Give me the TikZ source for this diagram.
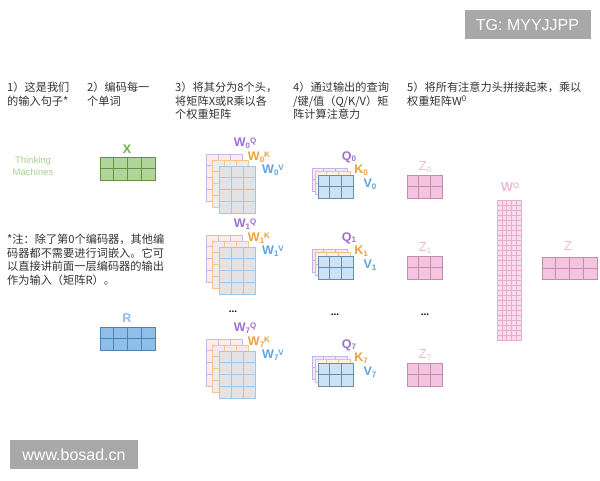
\documentclass[tikz,border=0pt]{standalone}
\usepackage{fontspec}
\setmainfont{Noto Sans CJK SC}
\newfontfamily\labfont{Liberation Sans}
\usepackage{xcolor}
\definecolor{qpurple}{HTML}{9D6FCF}
\definecolor{korange}{HTML}{EBA03C}
\definecolor{vblue}{HTML}{5FA3E0}
\definecolor{xgreen}{HTML}{6FB04A}
\definecolor{rblue}{HTML}{8FBDE8}
\definecolor{zpinklab}{HTML}{EDBCD5}
\definecolor{zfill}{HTML}{F4C3DF}
\definecolor{zline}{HTML}{C48BAB}
\definecolor{wofill}{HTML}{FADDEC}
\definecolor{woline}{HTML}{E6AECB}
\definecolor{markgray}{HTML}{A8A8A8}

\newcommand{\lsub}[1]{\raisebox{-1.5pt}{\fontsize{8}{8}\selectfont #1}}
\newcommand{\lsup}[1]{\raisebox{3.5pt}{\fontsize{8}{8}\selectfont #1}}

\tikzset{
  caption/.style={anchor=north west, align=left, inner sep=0pt,
    font=\fontsize{11.2}{13.5}\selectfont, text=black!80},
  matlab/.style={inner sep=0pt, font=\labfont\bfseries\fontsize{12.5}{12.5}\selectfont},
  qlab/.style={matlab, text=qpurple},
  klab/.style={matlab, text=korange},
  vlab/.style={matlab, text=vblue},
  zlab/.style={inner sep=0pt, text=zpinklab, font=\labfont\fontsize{13}{13}\selectfont},
  wback/.style={fill=black!5!purple!8, draw=qpurple!50, line width=0.7pt},
  wmid/.style={fill=orange!10!black!8, draw=korange!60, line width=0.7pt},
  wfront/.style={fill=black!11, draw=vblue!60, line width=0.7pt},
  qback/.style={fill=qpurple!15, draw=qpurple!55, line width=0.7pt},
  qmid/.style={fill=korange!15, draw=korange!65, line width=0.7pt},
  qfront/.style={fill=vblue!32, draw=vblue!70!black!80, line width=0.7pt},
  xmat/.style={fill=xgreen!55, draw=xgreen!85!black, line width=0.7pt},
  rmat/.style={fill=vblue!70, draw=vblue!80!black, line width=0.7pt},
  zmat/.style={fill=zfill, draw=zline, line width=0.7pt},
  womat/.style={fill=wofill, draw=woline, line width=0.4pt},
  wmark/.style={fill=markgray, text=white, inner sep=0pt,
    minimum width=126pt, minimum height=29pt,
    font=\labfont\fontsize{16}{16}\selectfont},
  dots/.style={inner sep=0pt, font=\labfont\bfseries\fontsize{10}{10}\selectfont}
}

\begin{document}
\begin{tikzpicture}[x=1pt, y=-1pt]
    \path [use as bounding box] (0,0) rectangle (600,480);

    \newcommand{\gridmat}[7]{
      \path[#7] (#1,#2) rectangle ++(#3*#5, #4*#6);
      \foreach \c in {1,...,#3}
        \draw[#7] (#1+\c*#5-#5, #2) -- ++(0, #4*#6);
      \foreach \r in {1,...,#4}
        \draw[#7] (#1, #2+\r*#6-#6) -- ++(#3*#5, 0);
    }

    \newcommand{\wstack}[2]{
      \gridmat{206}{#1}{3}{4}{12}{11.75}{wback}
      \gridmat{212.5}{#1+6}{3}{4}{12}{11.75}{wmid}
      \gridmat{219}{#1+12}{3}{4}{12}{11.75}{wfront}
      \node[qlab] (wq#2) at (245, #1-11) {W\lsub{#2}\lsup{Q}};
      \node[klab] (wk#2) at (259, #1+3) {W\lsub{#2}\lsup{K}};
      \node[vlab] (wv#2) at (273, #1+16) {W\lsub{#2}\lsup{V}};
    }

    \newcommand{\qkvstack}[2]{
      \gridmat{312}{#1}{3}{2}{11.67}{11.5}{qback}
      \gridmat{315}{#1+3.5}{3}{2}{11.67}{11.5}{qmid}
      \gridmat{318}{#1+7}{3}{2}{11.67}{11.5}{qfront}
      \node[qlab] (q#2) at (349, #1-11) {Q\lsub{#2}};
      \node[klab] (k#2) at (361, #1+2) {K\lsub{#2}};
      \node[vlab] (v#2) at (370, #1+16) {V\lsub{#2}};
    }

    \newcommand{\zhead}[2]{
      \gridmat{407}{#1}{3}{2}{11.67}{11.5}{zmat}
      \node[zlab] (z#2) at (425, #1-8) {Z\lsub{#2}};
    }

    \node[caption] (step1) at (7, 82) {1）这是我们\\的输入句子*};
    \node[caption] (step2) at (87, 82) {2）编码每一\\个单词};
    \node[caption] (step3) at (175, 82) {3）将其分为8个头，\\将矩阵X或R乘以各\\个权重矩阵};
    \node[caption] (step4) at (293, 82) {4）通过输出的查询\\/键/值（Q/K/V）矩\\阵计算注意力};
    \node[caption] (step5) at (407, 82) {5）将所有注意力头拼接起来，乘以\\权重矩阵W\textsuperscript{0}};
    \node[caption] (note) at (7, 234)
      {*注：除了第0个编码器，其他编\\码器都不需要进行词嵌入。它可\\以直接讲前面一层编码器的输出\\作为输入（矩阵R）。};

    \node[align=center, inner sep=0pt, text=xgreen!60,
      font=\labfont\fontsize{9.5}{12}\selectfont] (words) at (33, 166)
      {Thinking\\Machines};

    \gridmat{100}{157}{4}{2}{13.75}{11.5}{xmat}
    \node[matlab, text=xgreen] (xlab) at (127, 149) {X};
    \gridmat{100}{327}{4}{2}{13.75}{11.5}{rmat}
    \node[matlab, text=rblue] (rlab) at (127, 318) {R};

    \wstack{154}{0}
    \wstack{235}{1}
    \node[dots] (wdots) at (233, 312) {...};
    \wstack{339}{7}

    \qkvstack{168}{0}
    \qkvstack{249}{1}
    \node[dots] (qdots) at (335, 315) {...};
    \qkvstack{356}{7}

    \zhead{175}{0}
    \zhead{256}{1}
    \node[dots] (zdots) at (425, 315) {...};
    \zhead{363}{7}

    \gridmat{497}{200}{5}{28}{4.8}{5}{womat}
    \node[zlab, font=\labfont\bfseries\fontsize{13}{13}\selectfont]
      (wolab) at (510, 187) {W\lsup{O}};

    \gridmat{542}{257}{4}{2}{13.75}{11.25}{zmat}
    \node[zlab] (zall) at (568, 246) {Z};

    \node[wmark] (tg) at (527.5, 24.5) {TG: MYYJJPP};
    \node[wmark, minimum width=128pt] (site) at (74, 454.5) {www.bosad.cn};
\end{tikzpicture}
\end{document}
